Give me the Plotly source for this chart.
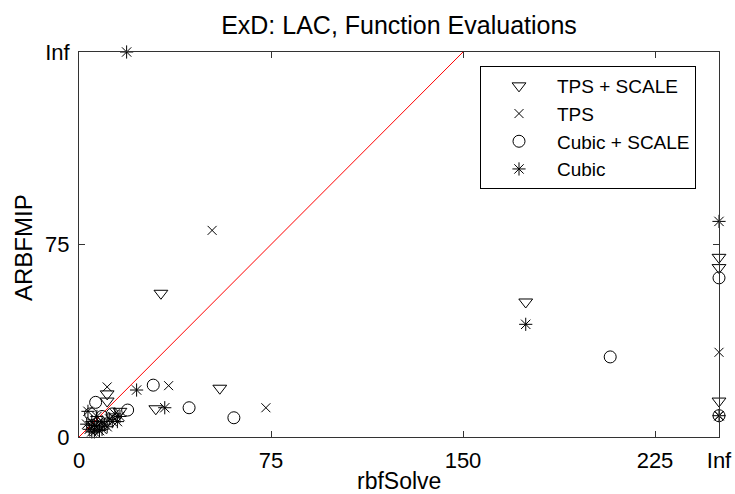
import plotly.graph_objects as go

INF_X = 250
INF_Y = 150

# TPS + SCALE
tps_scale_x = [32, 55, 30, 174.5, 11, 11, 16, 6, INF_X, INF_X, INF_X]
tps_scale_y = [56, 19, 11, 52.6, 16.8, 14, 10, 5, 70, 66, 14]

# TPS
tps_x = [52, 35, 73, 11, INF_X, INF_X, 5, 8, 13]
tps_y = [80.5, 20, 11.4, 19.5, 33, 8.3, 4, 6, 8]

# Cubic + SCALE
cubic_scale_x = [29, 43, 60.5, 207.5, INF_X, INF_X, 6.5, 19, 4.5, 9, 13]
cubic_scale_y = [20.2, 11.4, 7.5, 31.2, 62, 8.3, 13.5, 10.5, 9, 8, 9]

# Cubic
cubic_x = [18.6, 33.5, 22.5, 174.5, INF_X, INF_X, 4, 5, 6, 7, 8, 10, 12, 14, 16, 3.5, 6, 9,
           3, 5, 7, 9, 11, 13, 15]
cubic_y = [INF_Y, 11.4, 18.3, 43.9, 84, 8.3, 3, 6, 4.5, 8, 2.5, 5, 7, 9, 8, 10, 2, 3,
           5, 2, 4, 6, 4, 6, 6]

x_tick_vals = [0, 75, 150, 225, INF_X]
x_tick_text = ["0", "75", "150", "225", "Inf"]
y_tick_vals = [0, 75, INF_Y]
y_tick_text = ["0", "75", "Inf"]

FONT = "Liberation Sans, Arial, sans-serif"

W, H = 735, 494
L, R, T, B = 79, 16, 52, 57
PW, PH = W - L - R, H - T - B

fig = go.Figure()

fig.add_trace(go.Scatter(x=[0, 150], y=[0, 150], mode="lines",
                         line=dict(color="red", width=1), showlegend=False,
                         hoverinfo="skip"))

series = [
    ("TPS + SCALE", tps_scale_x, tps_scale_y, "triangle-down-open", 12),
    ("TPS", tps_x, tps_y, "x-thin-open", 9),
    ("Cubic + SCALE", cubic_scale_x, cubic_scale_y, "circle-open", 12),
    ("Cubic", cubic_x, cubic_y, "asterisk-open", 11),
]
for name, xs, ys, sym, sz in series:
    fig.add_trace(go.Scatter(
        x=xs, y=ys, mode="markers", name=name, cliponaxis=False,
        marker=dict(symbol=sym, size=sz, color="black",
                    line=dict(color="black", width=1)),
    ))

axis_common = dict(
    showgrid=False, zeroline=False, showline=True, linecolor="#333333",
    linewidth=1, mirror="ticks", ticks="inside", ticklen=6, tickcolor="#333333",
    automargin=False, ticklabelstandoff=4, ticklabeloverflow="allow",
    tickfont=dict(family=FONT, size=22, color="black"),
)

fig.update_layout(
    width=W, height=H,
    margin=dict(l=L, r=R, t=T, b=B, autoexpand=False),
    paper_bgcolor="white", plot_bgcolor="white",
    title=dict(text="ExD: LAC, Function Evaluations", x=0.5, xref="paper",
               xanchor="center", y=1 - 25 / H, yref="container", yanchor="middle",
               font=dict(family=FONT, size=25, color="black")),
    xaxis=dict(range=[0, INF_X], tickvals=x_tick_vals, ticktext=x_tick_text, **axis_common),
    yaxis=dict(range=[0, INF_Y], tickvals=y_tick_vals, ticktext=y_tick_text, **axis_common),
    legend=dict(x=(480 - L) / PW, y=(H - B - 66) / PH, xanchor="left", yanchor="top",
                bgcolor="white", bordercolor="black", borderwidth=1,
                font=dict(family=FONT, size=19, color="black"),
                itemwidth=66, tracegroupgap=0),
    annotations=[
        dict(text="rbfSolve", xref="paper", yref="paper", x=0.5, y=-(481 - (H - B)) / PH,
             showarrow=False, xanchor="center", yanchor="middle",
             font=dict(family=FONT, size=23, color="black")),
        dict(text="ARBFMIP", xref="paper", yref="paper", x=-(L - 24) / PW, y=((H - B) - 248) / PH,
             showarrow=False, xanchor="center", yanchor="middle", textangle=-90,
             font=dict(family=FONT, size=24, color="black")),
    ],
)

fig.write_html(
    "out.html",
    config={"displayModeBar": False},
    post_script="document.body.style.margin='0';document.body.style.overflow='hidden';",
)
